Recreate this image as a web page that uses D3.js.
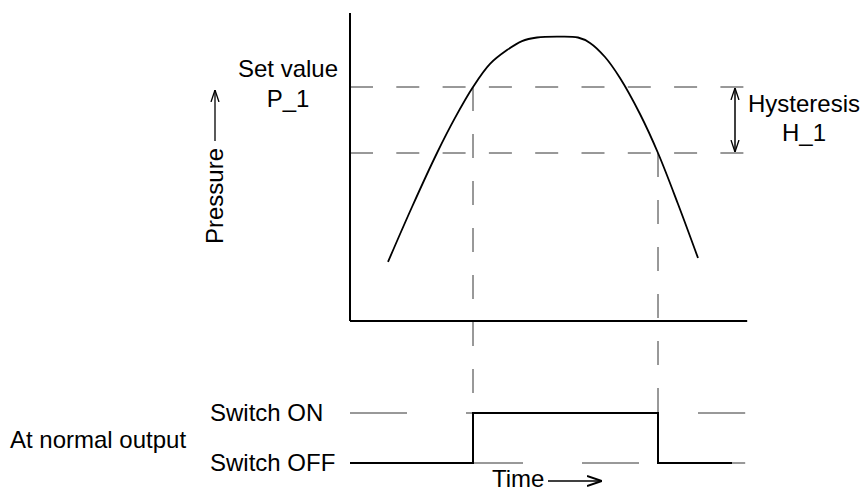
<!DOCTYPE html>
<html>
<head>
<meta charset="utf-8">
<script src="https://cdnjs.cloudflare.com/ajax/libs/d3/7.8.5/d3.min.js"></script>
<style>
body { margin: 0; background: #fff; }
text { font-family: "Liberation Sans", Arial, sans-serif; font-size: 24px; fill: #000; }
</style>
</head>
<body>
<script>
// pressure curve: time 0-100, pressure in % of full scale
var curveTime = [9.5, 15.5, 21.75, 26.25, 30.75, 35, 39.25, 43, 46.75, 51.75, 57, 60, 63.75, 67.5, 72.5, 77, 82, 87];
var curvePressure = [19.7, 38, 56, 67.7, 78, 85.7, 90.3, 93.3, 94.5, 94.8, 94.5, 92.7, 88, 81, 69, 56, 39, 21];

var setValue = 78;    // P_1
var resetValue = 56;  // P_1 - H_1

// switch output, 0 = off, 1 = on
var switchTime = [0, 30.75, 77, 95.5];
var switchState = [0, 1, 0, 0];
var switchLabels = ['Switch OFF', 'Switch ON'];

var width = 866,
		height = 493;

var x = d3.scaleLinear().domain([0, 100]).range([350, 750]);
var y = d3.scaleLinear().domain([0, 100]).range([321, 21]);
var ys = d3.scaleLinear().domain([0, 1]).range([463, 413]);

var svg = d3.select('body')
	.append('svg')
	.attr('width', width)
	.attr('height', height);

var defs = svg.append('defs');

// open arrow heads, a small one and a wider one for the time arrow
function head(id, len, half, sw) {
	defs.append('marker')
		.attr('id', id)
		.attr('viewBox', '0 0 ' + len + ' ' + (2 * half + 2))
		.attr('refX', len)
		.attr('refY', half + 1)
		.attr('markerWidth', len)
		.attr('markerHeight', 2 * half + 2)
		.attr('markerUnits', 'userSpaceOnUse')
		.attr('orient', 'auto-start-reverse')
		.append('path')
		.attr('d', 'M0,1 L' + len + ',' + (half + 1) + ' L0,' + (2 * half + 1))
		.attr('fill', 'none')
		.attr('stroke', '#000')
		.attr('stroke-width', sw);
}
head('head', 12, 4, 1.3);
head('bighead', 15, 5, 2);

// dashed set / reset levels
svg.selectAll('.level')
	.data([setValue, resetValue])
	.enter().append('line')
	.attr('x1', x(0))
	.attr('x2', x(98.8))
	.attr('y1', d => y(d))
	.attr('y2', d => y(d))
	.attr('stroke', '#333')
	.attr('stroke-dasharray', '23,23.3');

// dashed switch levels
svg.selectAll('.state')
	.data([0, 1])
	.enter().append('line')
	.attr('x1', x(0))
	.attr('x2', x(98.8))
	.attr('y1', d => ys(d))
	.attr('y2', d => ys(d))
	.attr('stroke', '#333')
	.attr('stroke-dasharray', '57,59');

// dashed drop lines at switching points
svg.selectAll('.drop')
	.data([[switchTime[1], setValue], [switchTime[2], resetValue]])
	.enter().append('line')
	.attr('x1', d => x(d[0]))
	.attr('x2', d => x(d[0]))
	.attr('y1', d => y(d[1]))
	.attr('y2', ys(0))
	.attr('stroke', '#333')
	.attr('stroke-dasharray', '24,23');

// pressure curve
var line = d3.line()
	.x((d, i) => x(curveTime[i]))
	.y(d => y(d))
	.curve(d3.curveCatmullRom.alpha(0.5));

svg.append('path')
	.attr('d', line(curvePressure))
	.attr('fill', 'none')
	.attr('stroke', '#000')
	.attr('stroke-width', 1.8);

// switch output
var step = d3.line()
	.x((d, i) => x(switchTime[i]))
	.y(d => ys(d))
	.curve(d3.curveStepAfter);

svg.append('path')
	.attr('d', step(switchState))
	.attr('fill', 'none')
	.attr('stroke', '#000')
	.attr('stroke-width', 2);

// axes
svg.append('line')
	.attr('x1', x(0)).attr('x2', x(0))
	.attr('y1', y(0)).attr('y2', y(102.7))
	.attr('stroke', '#000').attr('stroke-width', 2);

svg.append('line')
	.attr('x1', x(0)).attr('x2', x(99.3))
	.attr('y1', y(0)).attr('y2', y(0))
	.attr('stroke', '#000').attr('stroke-width', 2);

// hysteresis arrow
svg.append('line')
	.attr('x1', x(96.25)).attr('x2', x(96.25))
	.attr('y1', y(setValue) + 1).attr('y2', y(resetValue) - 1)
	.attr('stroke', '#000').attr('stroke-width', 1.5)
	.attr('marker-start', 'url(#head)')
	.attr('marker-end', 'url(#head)');

// labels
svg.append('text').attr('x', 288).attr('y', y(setValue) - 10)
	.attr('text-anchor', 'middle').text('Set value');
svg.append('text').attr('x', 288).attr('y', y(setValue) + 20)
	.attr('text-anchor', 'middle').text('P_1');

svg.append('text').attr('x', 804).attr('y', y(setValue) + 25)
	.attr('text-anchor', 'middle').text('Hysteresis');
svg.append('text').attr('x', 804).attr('y', y(setValue) + 54)
	.attr('text-anchor', 'middle').text('H_1');

svg.append('text')
	.attr('transform', 'translate(223,196) rotate(-90)')
	.attr('text-anchor', 'middle')
	.text('Pressure');

svg.append('line')
	.attr('x1', 215).attr('x2', 215)
	.attr('y1', 141).attr('y2', 90)
	.attr('stroke', '#000').attr('stroke-width', 1.3)
	.attr('marker-end', 'url(#head)');

svg.append('text').attr('x', 10).attr('y', 448).text('At normal output');

svg.selectAll('.switch-label')
	.data(switchLabels)
	.enter().append('text')
	.attr('x', 210)
	.attr('y', (d, i) => ys(i) + 8)
	.text(d => d);

svg.append('text').attr('x', 492).attr('y', 487).text('Time');

svg.append('line')
	.attr('x1', 548).attr('x2', 602)
	.attr('y1', 481).attr('y2', 481)
	.attr('stroke', '#000').attr('stroke-width', 1.3)
	.attr('marker-end', 'url(#bighead)');
</script>
</body>
</html>
